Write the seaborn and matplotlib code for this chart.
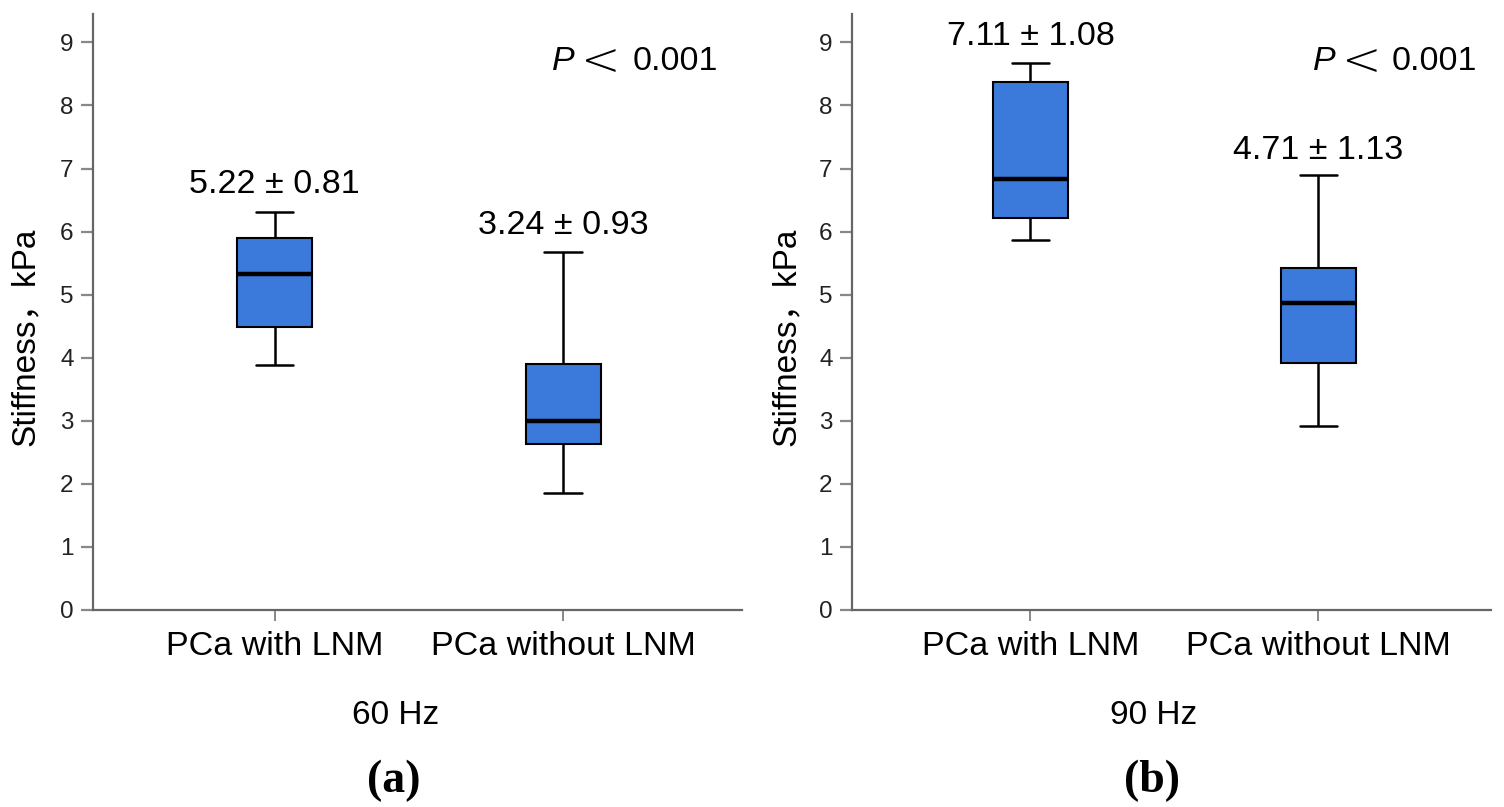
import pandas as pd
import matplotlib
matplotlib.use('Agg')
import matplotlib.pyplot as plt
import seaborn as sns

# groups and box stats (min, q1, median, q3, max)
groups = ['PCa with LNM', 'PCa without LNM']
box_60 = [[3.88, 4.49, 5.32, 5.90, 6.31],
          [1.86, 2.63, 3.00, 3.90, 5.67]]
box_90 = [[5.86, 6.21, 6.83, 8.37, 8.67],
          [2.92, 3.92, 4.86, 5.42, 6.89]]

# mean +- sd labels and where they sit
labels_60 = ['5.22 ± 0.81', '3.24 ± 0.93']
labels_60_y = [6.74, 6.10]
labels_90 = ['7.11 ± 1.08', '4.71 ± 1.13']
labels_90_y = [9.10, 7.29]

freqs = ['60 Hz', '90 Hz']
panel_tags = ['(a)', '(b)']
y_ticks = list(range(0, 10))

sns.set_style('white')
plt.rcParams['font.family'] = ['Liberation Sans', 'Noto Sans CJK SC', 'DejaVu Sans']
plt.rcParams['text.color'] = 'black'

box_color = '#3B7ADB'

fig = plt.figure(figsize=(15.04, 8.07), dpi=100)
ax_a = fig.add_axes([93 / 1504, 1 - 610 / 807, (742 - 93) / 1504, (610 - 14) / 807])
ax_b = fig.add_axes([852 / 1504, 1 - 610 / 807, (1491 - 852) / 1504, (610 - 14) / 807])


def make_frame(stats):
    rows = []
    for g, vals in zip(groups, stats):
        for v in vals:
            rows.append({'group': g, 'value': v})
    return pd.DataFrame(rows)


# axes, stats, labels, label heights, xlim, x of "P", "<" and "0.001" (axes fraction), ylabel x
panels = [
    (ax_a, box_60, labels_60, labels_60_y, (-0.63, 1.62), (0.707, 0.782, 0.963), -0.080),
    (ax_b, box_90, labels_90, labels_90_y, (-0.62, 1.60), (0.721, 0.798, 0.978), -0.079),
]

for ax, stats, labs, labs_y, xlim, p_pos, ylab_x in panels:
    df = make_frame(stats)
    sns.boxplot(data=df, x='group', y='value', ax=ax, order=groups,
                color=box_color, saturation=1, width=0.26, whis=(0, 100),
                showfliers=False, linecolor='black', linewidth=1.5,
                medianprops={'linewidth': 3.2, 'color': 'black'},
                whiskerprops={'linewidth': 1.8},
                capprops={'linewidth': 1.8})
    ax.set_xlim(*xlim)
    ax.set_ylim(0, 9.45)
    ax.set_yticks(y_ticks)
    ax.set_xlabel('')
    ax.set_ylabel('Stiffness，kPa', fontsize=24, color='black')
    ax.yaxis.set_label_coords(ylab_x, 0.458)
    ax.tick_params(axis='y', labelsize=17.5, labelcolor='#222222', color='#888888',
                   length=9, width=1.6, left=True, direction='out', pad=5)
    ax.tick_params(axis='x', labelsize=24.5, labelcolor='black', color='#888888',
                   length=8, width=1.4, bottom=True, direction='out', pad=7)
    for side in ['top', 'right']:
        ax.spines[side].set_visible(False)
    for side in ['left', 'bottom']:
        ax.spines[side].set_color('#666666')
        ax.spines[side].set_linewidth(1.6)

    for i, (t, y) in enumerate(zip(labs, labs_y)):
        ax.text(i, y, t, ha='center', va='center', fontsize=24.5)

    p_y = ax.transData.transform((0, 8.69))[1]
    p_y = ax.transAxes.inverted().transform((0, p_y))[1]
    ax.text(p_pos[0], p_y, 'P', style='italic', ha='left', va='center',
            fontsize=24.5, transform=ax.transAxes)
    ax.text(p_pos[1], p_y, '<', ha='center', va='center', fontsize=34,
            fontweight='light', family='DejaVu Sans', transform=ax.transAxes)
    ax.text(p_pos[2], p_y, '0.001', ha='right', va='center', fontsize=24.5,
            transform=ax.transAxes)

# frequency captions and panel tags under each panel
for cx, f, tag in zip([396 / 1504, 1154 / 1504], freqs, panel_tags):
    fig.text(cx, 1 - 716 / 807, f, ha='center', va='center', fontsize=24)
    fig.text(cx - 2 / 1504, 1 - 781 / 807, tag, ha='center', va='center',
             fontsize=33, fontweight='bold', family='Liberation Serif')

fig.savefig('out.png', dpi=100, facecolor='white')
